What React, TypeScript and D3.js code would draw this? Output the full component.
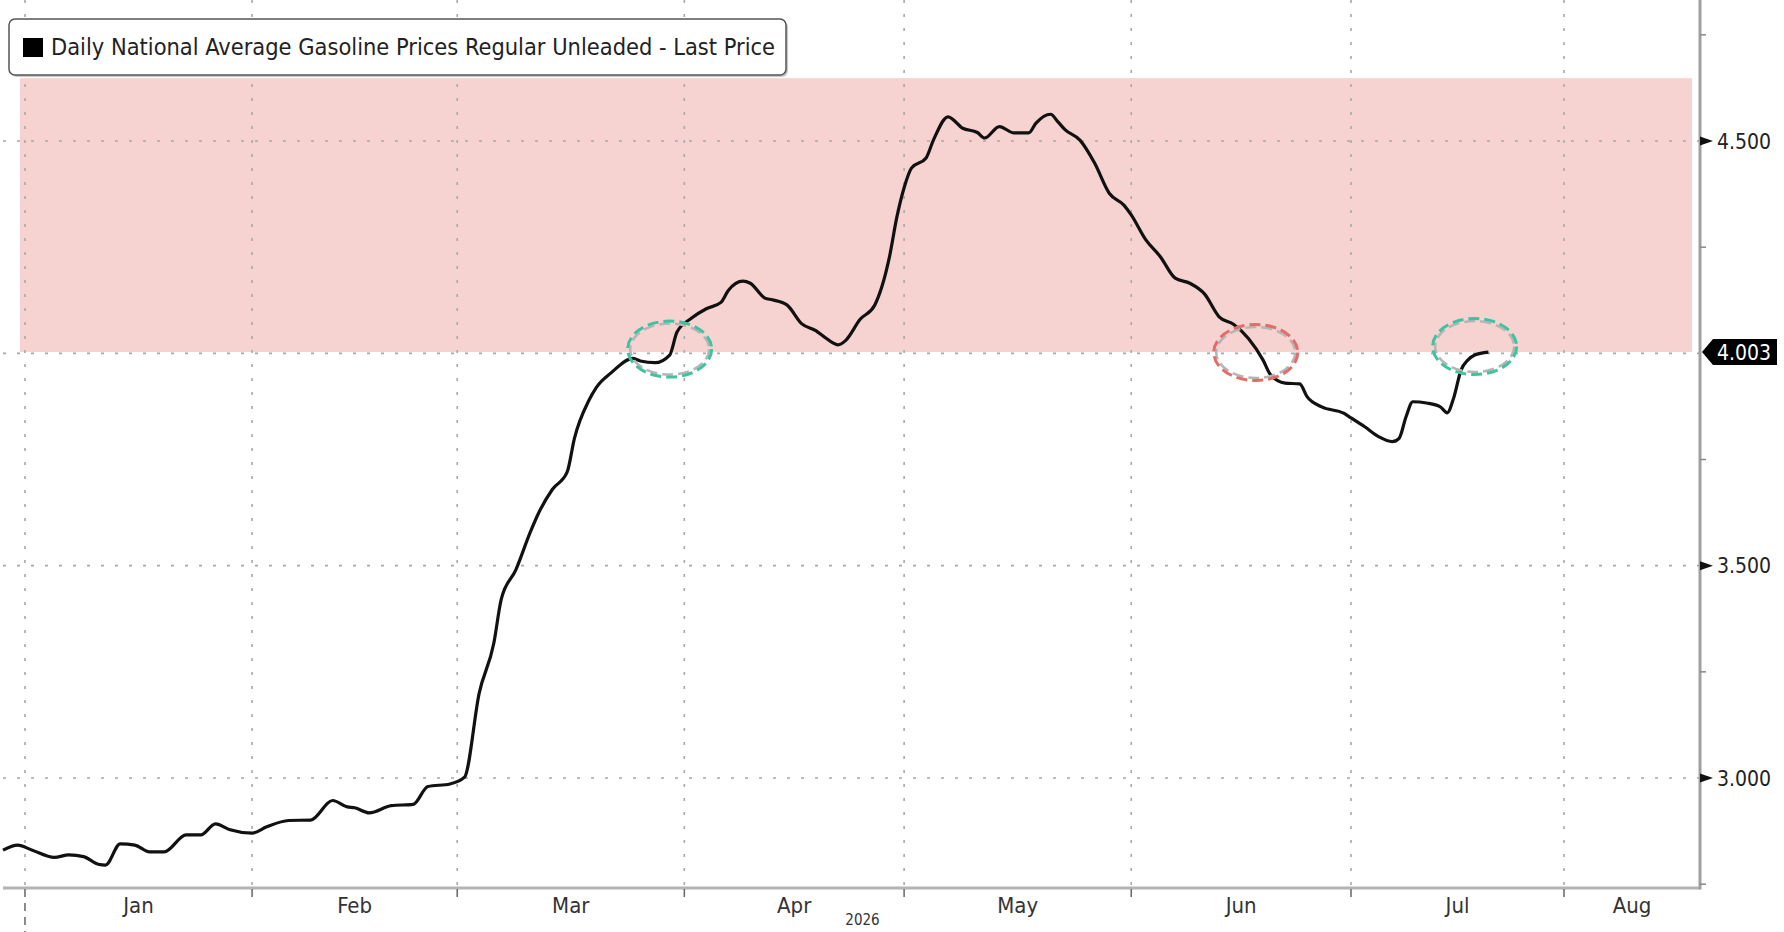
import React, { useRef, useEffect } from 'react';
import * as d3 from 'd3';

// price series
const dates = [
  '2025-12-29', '2025-12-31', '2026-01-02', '2026-01-05', '2026-01-07', '2026-01-09', '2026-01-11', '2026-01-12',
  '2026-01-14', '2026-01-16', '2026-01-18', '2026-01-20', '2026-01-23', '2026-01-25', '2026-01-27', '2026-01-29',
  '2026-02-01', '2026-02-03', '2026-02-06', '2026-02-09', '2026-02-12', '2026-02-14', '2026-02-15', '2026-02-17',
  '2026-02-20', '2026-02-23', '2026-02-25', '2026-02-28', '2026-03-02', '2026-03-04', '2026-03-06', '2026-03-07',
  '2026-03-09', '2026-03-11', '2026-03-12', '2026-03-14', '2026-03-16', '2026-03-17', '2026-03-19', '2026-03-20',
  '2026-03-22', '2026-03-25', '2026-03-26', '2026-03-28', '2026-03-30', '2026-03-31', '2026-04-02', '2026-04-04',
  '2026-04-06', '2026-04-07', '2026-04-09', '2026-04-10', '2026-04-12', '2026-04-13', '2026-04-15', '2026-04-17',
  '2026-04-19', '2026-04-20', '2026-04-22', '2026-04-23', '2026-04-25', '2026-04-27', '2026-04-29', '2026-04-30',
  '2026-05-01', '2026-05-02', '2026-05-04', '2026-05-05', '2026-05-07', '2026-05-09', '2026-05-11', '2026-05-12',
  '2026-05-14', '2026-05-16', '2026-05-18', '2026-05-19', '2026-05-21', '2026-05-22', '2026-05-23', '2026-05-25',
  '2026-05-27', '2026-05-29', '2026-05-31', '2026-06-01', '2026-06-03', '2026-06-05', '2026-06-07', '2026-06-09',
  '2026-06-11', '2026-06-13', '2026-06-15', '2026-06-17', '2026-06-19', '2026-06-20', '2026-06-22', '2026-06-24',
  '2026-06-25', '2026-06-27', '2026-06-30', '2026-07-01', '2026-07-03', '2026-07-05', '2026-07-07', '2026-07-08',
  '2026-07-09', '2026-07-10', '2026-07-12', '2026-07-14', '2026-07-15', '2026-07-16', '2026-07-17', '2026-07-18',
  '2026-07-19', '2026-07-21'
];

const prices = [
  2.830, 2.842, 2.830, 2.813, 2.819, 2.815, 2.797, 2.795,
  2.845, 2.842, 2.826, 2.826, 2.866, 2.866, 2.892, 2.878,
  2.870, 2.885, 2.900, 2.901, 2.947, 2.932, 2.930, 2.918,
  2.935, 2.938, 2.980, 2.986, 3.002, 3.200, 3.318, 3.420,
  3.490, 3.580, 3.620, 3.680, 3.720, 3.800, 3.890, 3.920,
  3.954, 3.988, 3.982, 3.978, 3.996, 4.050, 4.083, 4.105,
  4.120, 4.148, 4.170, 4.165, 4.130, 4.126, 4.114, 4.070,
  4.053, 4.040, 4.020, 4.030, 4.080, 4.114, 4.227, 4.320,
  4.390, 4.436, 4.460, 4.502, 4.557, 4.530, 4.520, 4.507,
  4.534, 4.519, 4.519, 4.542, 4.563, 4.545, 4.526, 4.502,
  4.448, 4.377, 4.349, 4.326, 4.267, 4.227, 4.177, 4.165,
  4.140, 4.086, 4.068, 4.035, 3.984, 3.950, 3.930, 3.928,
  3.898, 3.874, 3.859, 3.848, 3.827, 3.804, 3.792, 3.800,
  3.850, 3.886, 3.883, 3.874, 3.860, 3.898, 3.960, 3.984,
  3.996, 4.003
];

const monthLabels = ['Jan', 'Feb', 'Mar', 'Apr', 'May', 'Jun', 'Jul', 'Aug'];
const monthStarts = ['2026-01-01', '2026-02-01', '2026-03-01', '2026-04-01', '2026-05-01', '2026-06-01', '2026-07-01', '2026-08-01'];
const yearLabel = '2026';

const yTicks = [3.0, 3.5, 4.5];
const yMinorTicks = [2.75, 3.25, 3.75, 4.25, 4.75];
const yGrid = [3.0, 3.5, 4.0, 4.5];
const lastPrice = 4.003;
const bandTop = 4.648;

const legendLabel = 'Daily National Average Gasoline Prices Regular Unleaded - Last Price';

// dashed ellipses drawn on the chart
const circleDates = ['2026-03-30', '2026-06-18', '2026-07-19'];
const circleValues = [4.010, 4.002, 4.016];
const circleColors = ['#3ec29f', '#e36b68', '#3ec29f'];

const W = 1784;
const H = 932;
const plotLeft = 3;
const plotRight = 1700;
const plotTop = 0;
const plotBottom = 888;

const parse = d3.timeParse('%Y-%m-%d');

const App: React.FC = () => {
  const svgRef = useRef<SVGSVGElement>(null);

  useEffect(() => {
    if (!svgRef.current) return;
    const svg = d3.select(svgRef.current);
    svg.selectAll('*').remove();

    const font = '"DejaVu Sans Condensed", "DejaVu Sans", sans-serif';

    // the chart has a slightly tighter July; piecewise time scale
    const x = d3.scaleTime()
      .domain([parse('2025-12-29')!, parse('2026-07-01')!, parse('2026-08-01')!, parse('2026-08-20')!])
      .range([plotLeft, 1351, 1564, plotRight]);

    const y = d3.scaleLinear().domain([2.741, 4.832]).range([plotBottom, plotTop]);

    const data = dates.map((d, i) => ({ date: parse(d)!, value: prices[i] }));

    svg.append('rect').attr('width', W).attr('height', H).attr('fill', '#ffffff');

    // shaded band above the last price
    svg.append('rect')
      .attr('x', 20)
      .attr('y', y(bandTop))
      .attr('width', 1692 - 20)
      .attr('height', y(lastPrice) - y(bandTop))
      .attr('fill', '#f6d3d0');

    // grid
    svg.append('g')
      .selectAll('line')
      .data(yGrid)
      .enter()
      .append('line')
      .attr('x1', plotLeft)
      .attr('x2', plotRight)
      .attr('y1', d => y(d))
      .attr('y2', d => y(d))
      .attr('stroke', '#a8a8a8')
      .attr('stroke-width', 1.6)
      .attr('stroke-dasharray', '3,11');

    const starts = monthStarts.map(d => parse(d)!);
    svg.append('g')
      .selectAll('line')
      .data(starts)
      .enter()
      .append('line')
      .attr('x1', d => x(d))
      .attr('x2', d => x(d))
      .attr('y1', plotTop)
      .attr('y2', plotBottom)
      .attr('stroke', '#a8a8a8')
      .attr('stroke-width', 1.6)
      .attr('stroke-dasharray', '3,11');

    // axes
    svg.append('line')
      .attr('x1', plotLeft).attr('x2', plotRight)
      .attr('y1', plotBottom).attr('y2', plotBottom)
      .attr('stroke', '#b4b4b4').attr('stroke-width', 3);
    svg.append('line')
      .attr('x1', plotRight).attr('x2', plotRight)
      .attr('y1', plotTop).attr('y2', plotBottom + 1.5)
      .attr('stroke', '#a0a0a0').attr('stroke-width', 3);

    // month ticks + labels
    svg.append('g')
      .selectAll('line')
      .data(starts)
      .enter()
      .append('line')
      .attr('x1', d => x(d))
      .attr('x2', d => x(d))
      .attr('y1', plotBottom + 1)
      .attr('y2', (d, i) => (i === 0 ? H : plotBottom + 9))
      .attr('stroke', '#666')
      .attr('stroke-width', 1.5)
      .attr('stroke-dasharray', (d, i) => (i === 0 ? '8,6' : null));

    svg.append('g')
      .selectAll('text')
      .data(monthLabels)
      .enter()
      .append('text')
      .attr('x', (d, i) => {
        const a = x(starts[i]);
        const b = i < starts.length - 1 ? x(starts[i + 1]) : plotRight;
        return (a + b) / 2;
      })
      .attr('y', 913)
      .attr('text-anchor', 'middle')
      .attr('font-family', font)
      .attr('font-size', 22)
      .attr('fill', '#333')
      .text(d => d);

    svg.append('text')
      .attr('x', (x(starts[0]) + plotRight) / 2)
      .attr('y', 925)
      .attr('text-anchor', 'middle')
      .attr('font-family', font)
      .attr('font-size', 15)
      .attr('fill', '#333')
      .text(yearLabel);

    // y ticks
    svg.append('g')
      .selectAll('line')
      .data(yMinorTicks)
      .enter()
      .append('line')
      .attr('x1', plotRight)
      .attr('x2', plotRight + 6)
      .attr('y1', d => y(d))
      .attr('y2', d => y(d))
      .attr('stroke', '#888')
      .attr('stroke-width', 1.5);

    const ticks = svg.append('g');
    yTicks.forEach(v => {
      const ty = y(v);
      ticks.append('path')
        .attr('d', `M${plotRight},${ty - 4.5}L${plotRight + 13},${ty}L${plotRight},${ty + 4.5}Z`)
        .attr('fill', '#111');
      ticks.append('text')
        .attr('x', plotRight + 17)
        .attr('y', ty)
        .attr('dy', '0.36em')
        .attr('font-family', font)
        .attr('font-size', 21)
        .attr('fill', '#222')
        .text(d3.format('.3f')(v));
    });

    // last price tag
    const ly = y(lastPrice);
    svg.append('path')
      .attr('d', `M${plotRight + 2},${ly}L${plotRight + 13},${ly - 13}H1777V${ly + 13}H${plotRight + 13}Z`)
      .attr('fill', '#000');
    svg.append('text')
      .attr('x', plotRight + 17)
      .attr('y', ly)
      .attr('dy', '0.36em')
      .attr('font-family', font)
      .attr('font-size', 21)
      .attr('fill', '#fff')
      .text(d3.format('.3f')(lastPrice));

    // price line
    const line = d3.line<{ date: Date; value: number }>()
      .x(d => x(d.date))
      .y(d => y(d.value))
      .curve(d3.curveMonotoneX);

    svg.append('path')
      .datum(data)
      .attr('fill', 'none')
      .attr('stroke', '#111')
      .attr('stroke-width', 3.2)
      .attr('stroke-linejoin', 'round')
      .attr('d', line as any);

    // dashed ellipses: grey inner ring, coloured outer ring
    const circles = svg.append('g');
    circleDates.forEach((d, i) => {
      const cx = x(parse(d)!);
      const cy = y(circleValues[i]);
      circles.append('ellipse')
        .attr('cx', cx).attr('cy', cy).attr('rx', 39.5).attr('ry', 25.5)
        .attr('fill', 'none')
        .attr('stroke', '#b5b5b5')
        .attr('stroke-width', 2.5)
        .attr('stroke-dasharray', '11,5');
      circles.append('ellipse')
        .attr('cx', cx).attr('cy', cy).attr('rx', 42).attr('ry', 28)
        .attr('fill', 'none')
        .attr('stroke', circleColors[i])
        .attr('stroke-width', 3)
        .attr('stroke-dasharray', '11,5');
    });

    // legend
    const legend = svg.append('g');
    legend.append('rect')
      .attr('x', 11).attr('y', 21).attr('width', 777).attr('height', 56).attr('rx', 6)
      .attr('fill', '#c8c8c8');
    legend.append('rect')
      .attr('x', 9).attr('y', 19).attr('width', 777).attr('height', 56).attr('rx', 6)
      .attr('fill', '#fff')
      .attr('stroke', '#555')
      .attr('stroke-width', 1.5);
    legend.append('rect')
      .attr('x', 23).attr('y', 38).attr('width', 20).attr('height', 19)
      .attr('fill', '#000');
    legend.append('text')
      .attr('x', 51)
      .attr('y', 47)
      .attr('dy', '0.36em')
      .attr('font-family', font)
      .attr('font-size', 23.4)
      .attr('fill', '#222')
      .text(legendLabel);
  }, []);

  return (
    <svg
      ref={svgRef}
      width={W}
      height={H}
      style={{ position: 'absolute', left: 0, top: 0, display: 'block' }}
    />
  );
};

export default App;
